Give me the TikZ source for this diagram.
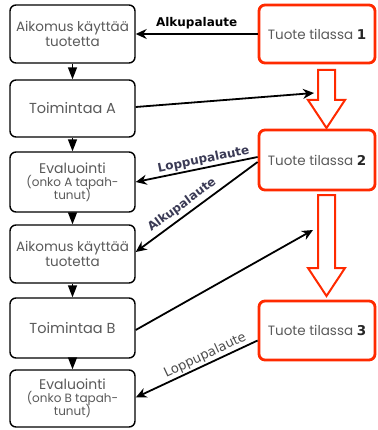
\documentclass[tikz,border=0pt]{standalone}
\usepackage{fontspec}
\setmainfont{Poppins}
\newfontfamily\lblfont{DejaVu Sans}
\usetikzlibrary{arrows.meta}
\definecolor{boxtext}{HTML}{5A5A5A}
\definecolor{redline}{HTML}{FF2A00}
\definecolor{slate}{HTML}{3A3A55}
\newcommand\statenum[1]{{\lblfont\bfseries\fontsize{13.5}{13.5}\selectfont\color{black!85}#1}}
\newcommand\smallline[1]{{\fontsize{12}{13}\selectfont #1}}
\newcommand\evalhead{{\fontsize{14}{15}\selectfont Evaluointi}}
\tikzset{
  stepbox/.style={draw=black, line width=1.4pt, rounded corners=6pt, fill=white,
    minimum width=125pt, align=center, text=boxtext, inner sep=1pt,
    font=\fontsize{13.5}{15}\selectfont},
  statebox/.style={draw=redline, line width=2.8pt, rounded corners=6pt, fill=white,
    minimum width=116pt, text=boxtext,
    font=\fontsize{13.5}{15}\selectfont},
  flow/.style={line width=1.5pt, -{Triangle[width=9pt,length=12pt]}},
  feedback/.style={line width=1.8pt, -{Stealth[width=10pt,length=11pt]}},
  blockarrow/.style={draw=redline, line width=2pt, fill=white, line join=miter},
  lbl/.style={font=\lblfont\bfseries\fontsize{12}{14}\selectfont, inner sep=1.5pt}
}
\begin{document}
\begin{tikzpicture}[x=1pt,y=-1pt]
\useasboundingbox (0,0) rectangle (377,430);

% left column: steps of use
\node[stepbox, minimum height=58pt] (b1) at (72.5,34) {Aikomus käyttää\\tuotetta};
\node[stepbox, minimum height=57pt, font=\fontsize{14.5}{15}\selectfont] (b2) at (72.5,108.5) {Toimintaa A};
\node[stepbox, minimum height=60pt] (b3) at (72.5,182)
  {\evalhead\\[-2pt]\smallline{(onko A tapah-}\\[-2pt]\smallline{tunut)}};
\node[stepbox, minimum height=58pt] (b4) at (72.5,254) {Aikomus käyttää\\tuotetta};
\node[stepbox, minimum height=60pt, font=\fontsize{14.5}{15}\selectfont] (b5) at (72.5,328) {Toimintaa B};
\node[stepbox, minimum height=57pt] (b6) at (72.5,398.5)
  {\evalhead\\[-2pt]\smallline{(onko B tapah-}\\[-2pt]\smallline{tunut)}};

\foreach \a/\b in {b1/b2,b2/b3,b3/b4,b4/b5,b5/b6}
  \draw[flow] (\a.south) -- (\b.north);

% right column: product states
\node[statebox, minimum height=58pt] (r1) at (317,34) {Tuote tilassa \statenum{1}};
\node[statebox, minimum height=60pt] (r2) at (317,160) {Tuote tilassa \statenum{2}};
\node[statebox, minimum height=59pt] (r3) at (317,330.5) {Tuote tilassa \statenum{3}};

% hollow block arrows between states
\draw[blockarrow] (318,70) -- (335,70) -- (335,100) -- (345,100) -- (326.5,128)
  -- (308,100) -- (318,100) -- cycle;
\draw[blockarrow] (318,195) -- (335,195) -- (335,268) -- (345,268) -- (326.5,296)
  -- (308,268) -- (318,268) -- cycle;

% targets of the action arrows
\coordinate (t1) at (314,93);
\coordinate (t2) at (313,230);

% feedback and action connectors
\draw[feedback] (r1.west) -- node[lbl, above=3pt, pos=0.5] {Alkupalaute} (b1.east);
\draw[feedback] (b2.east |- 0,107) -- (t1);
\draw[feedback] ([yshift=3pt]r2.west) -- node[lbl, text=slate, sloped, above, pos=0.43] {Loppupalaute} (b3.east);
\draw[feedback] ([yshift=-2pt]r2.west) -- node[lbl, text=slate, sloped, above=2pt, pos=0.57] {Alkupalaute} ([yshift=2pt]b4.east);
\draw[feedback] (b5.east |- 0,330) -- (t2);
\draw[feedback] ([yshift=-10pt]r3.west) -- node[sloped, above, pos=0.4, inner sep=1.5pt,
  text=black!70, font=\lblfont\fontsize{13}{14}\selectfont] {Loppupalaute} ([yshift=1pt]b6.east);
\end{tikzpicture}
\end{document}
